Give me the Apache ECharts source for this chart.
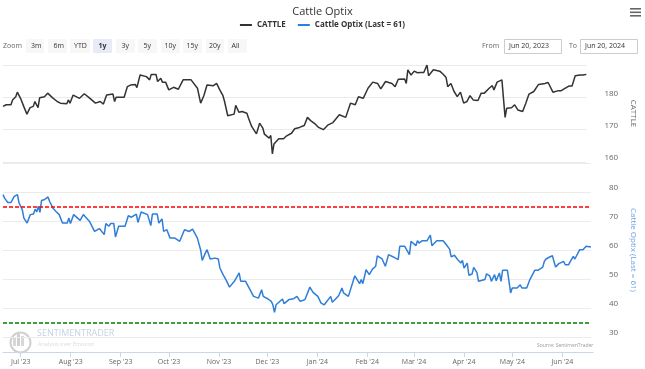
<!DOCTYPE html>
<html>
<head>
<meta charset="utf-8">
<script src="https://cdn.jsdelivr.net/npm/echarts@6/dist/echarts.min.js"></script>
<style>
html,body{margin:0;padding:0;background:#fff;}
#chart{width:645px;height:369px;}
</style>
</head>
<body>
<div id="chart"></div>
<script>
// ---------------- DATA ----------------
var titleText = 'Cattle Optix';
var cattleName = 'CATTLE';
var optixName = 'Cattle Optix (Last = 61)';
var rangeStart = '2023-06-20';
var rangeEnd = '2024-06-20';

var cattleDates = ['2023-06-20','2023-06-22','2023-06-25','2023-06-26','2023-06-28','2023-06-29','2023-07-01','2023-07-03','2023-07-05','2023-07-07',
'2023-07-09','2023-07-10','2023-07-12','2023-07-13','2023-07-16','2023-07-18','2023-07-21','2023-07-24','2023-07-26','2023-07-30',
'2023-07-31','2023-08-01','2023-08-03','2023-08-07','2023-08-10','2023-08-13','2023-08-17','2023-08-20','2023-08-22','2023-08-24',
'2023-08-28','2023-08-29','2023-08-30','2023-09-04','2023-09-06','2023-09-08','2023-09-11','2023-09-12','2023-09-14','2023-09-18',
'2023-09-20','2023-09-21','2023-09-24','2023-09-25','2023-09-27','2023-09-28','2023-09-30','2023-10-02','2023-10-05','2023-10-08',
'2023-10-11','2023-10-16','2023-10-17','2023-10-20','2023-10-22','2023-10-24','2023-10-26','2023-10-30','2023-11-01','2023-11-03',
'2023-11-05','2023-11-06','2023-11-08','2023-11-09','2023-11-12','2023-11-13','2023-11-15','2023-11-17','2023-11-20','2023-11-21',
'2023-11-23','2023-11-26','2023-11-28','2023-11-30','2023-12-01','2023-12-04','2023-12-05','2023-12-06','2023-12-07','2023-12-10',
'2023-12-13','2023-12-15','2023-12-18','2023-12-20','2023-12-23','2023-12-26','2023-12-28','2023-12-30','2024-01-02','2024-01-04',
'2024-01-07','2024-01-10','2024-01-13','2024-01-17','2024-01-18','2024-01-21','2024-01-24','2024-01-27','2024-01-29','2024-02-01',
'2024-02-04','2024-02-07','2024-02-10','2024-02-12','2024-02-15','2024-02-19','2024-02-21','2024-02-23','2024-02-27','2024-02-28',
'2024-02-29','2024-03-02','2024-03-04','2024-03-06','2024-03-08','2024-03-10','2024-03-12','2024-03-13','2024-03-16','2024-03-20',
'2024-03-22','2024-03-24','2024-03-25','2024-03-27','2024-03-29','2024-03-31','2024-04-02','2024-04-04','2024-04-06','2024-04-08',
'2024-04-10','2024-04-11','2024-04-13','2024-04-15','2024-04-17','2024-04-20','2024-04-22','2024-04-23','2024-04-25','2024-04-28',
'2024-04-29','2024-04-30','2024-05-01','2024-05-04','2024-05-06','2024-05-08','2024-05-11','2024-05-13','2024-05-15','2024-05-18',
'2024-05-21','2024-05-25','2024-05-27','2024-05-30','2024-06-02','2024-06-04','2024-06-06','2024-06-09','2024-06-11','2024-06-13',
'2024-06-16','2024-06-18','2024-06-20'];
var cattleValues = [177.2,177.7,177.7,179.2,180.2,181.6,179.7,177.2,174.8,176.8,
177.2,178.7,176.8,179.9,180.2,181.3,179.9,178.7,178.2,178.0,
179.2,178.2,180.7,179.7,181.1,179.9,178.2,178.7,177.9,180.7,
181.0,178.7,180.0,180.0,183.3,183.8,184.0,183.0,186.9,186.4,
185.4,187.1,187.1,184.9,185.9,184.7,184.7,182.3,183.1,182.5,
185.4,185.4,185.7,182.8,178.2,180.5,183.8,183.6,184.3,182.3,
180.5,178.7,174.3,174.3,174.8,177.5,175.4,175.6,175.1,173.6,
171.0,168.7,172.0,170.5,168.6,167.4,168.2,162.5,165.6,167.2,
167.2,168.1,168.9,170.3,170.7,171.3,173.8,172.8,171.7,170.7,
170.0,171.5,172.2,174.6,174.6,173.8,178.2,177.7,180.2,179.7,
182.8,184.7,184.3,182.6,184.9,184.3,183.3,185.6,185.7,184.3,
188.5,186.9,188.1,187.6,187.7,187.7,190.0,186.7,188.5,188.1,
187.2,186.1,183.3,184.3,181.8,180.2,181.6,178.2,178.7,180.5,
179.2,179.7,179.0,181.3,181.3,182.8,183.6,182.3,184.7,185.4,
184.9,173.8,176.6,176.8,177.7,176.1,175.6,178.2,181.0,181.8,
184.0,184.3,184.6,181.6,182.0,182.0,182.6,183.5,183.5,186.7,
186.9,186.9,187.1];

var optixDates = ['2023-06-20','2023-06-21','2023-06-22','2023-06-23','2023-06-25','2023-06-27','2023-06-28','2023-06-29','2023-06-30','2023-07-02',
'2023-07-03','2023-07-05','2023-07-06','2023-07-07','2023-07-09','2023-07-10','2023-07-11','2023-07-12','2023-07-13','2023-07-14',
'2023-07-16','2023-07-17','2023-07-18','2023-07-19','2023-07-21','2023-07-23','2023-07-25','2023-07-27','2023-07-30','2023-07-31',
'2023-08-01','2023-08-03','2023-08-07','2023-08-09','2023-08-13','2023-08-16','2023-08-19','2023-08-22','2023-08-23','2023-08-25',
'2023-08-26','2023-08-28','2023-08-29','2023-08-31','2023-09-04','2023-09-06','2023-09-08','2023-09-11','2023-09-12','2023-09-14',
'2023-09-18','2023-09-20','2023-09-21','2023-09-24','2023-09-25','2023-09-27','2023-09-28','2023-09-30','2023-10-02','2023-10-05',
'2023-10-08','2023-10-11','2023-10-14','2023-10-16','2023-10-19','2023-10-21','2023-10-22','2023-10-24','2023-10-25','2023-10-27',
'2023-10-30','2023-11-01','2023-11-02','2023-11-04','2023-11-06','2023-11-07','2023-11-08','2023-11-11','2023-11-14','2023-11-15',
'2023-11-18','2023-11-23','2023-11-26','2023-11-28','2023-11-29','2023-12-02','2023-12-04','2023-12-05','2023-12-06','2023-12-07',
'2023-12-11','2023-12-12','2023-12-15','2023-12-18','2023-12-19','2023-12-20','2023-12-22','2023-12-25','2023-12-28','2023-12-30',
'2024-01-02','2024-01-04','2024-01-06','2024-01-07','2024-01-10','2024-01-11','2024-01-13','2024-01-15','2024-01-17','2024-01-18',
'2024-01-21','2024-01-25','2024-01-28','2024-01-29','2024-01-30','2024-02-01','2024-02-03','2024-02-05','2024-02-07','2024-02-08',
'2024-02-11','2024-02-13','2024-02-15','2024-02-18','2024-02-21','2024-02-22','2024-02-25','2024-02-26','2024-02-28','2024-02-29',
'2024-03-03','2024-03-04','2024-03-05','2024-03-07','2024-03-10','2024-03-12','2024-03-13','2024-03-16','2024-03-20','2024-03-22',
'2024-03-24','2024-03-25','2024-03-27','2024-03-29','2024-03-31','2024-04-01','2024-04-02','2024-04-04','2024-04-05','2024-04-07',
'2024-04-08','2024-04-10','2024-04-11','2024-04-15','2024-04-16','2024-04-18','2024-04-19','2024-04-21','2024-04-22','2024-04-24',
'2024-04-25','2024-04-26','2024-04-29','2024-04-30','2024-05-01','2024-05-02','2024-05-05','2024-05-07','2024-05-08','2024-05-11',
'2024-05-13','2024-05-14','2024-05-16','2024-05-18','2024-05-21','2024-05-22','2024-05-23','2024-05-25','2024-05-27','2024-05-29',
'2024-05-31','2024-06-03','2024-06-04','2024-06-06','2024-06-09','2024-06-10','2024-06-13','2024-06-15','2024-06-17','2024-06-20'];
var optixValues = [79.1,77.9,78.5,76.4,76.4,78.5,78.5,79.1,76.2,73.9,
71.0,69.3,69.3,72.2,72.4,74.1,73.1,75.1,73.0,77.1,
77.4,77.6,78.3,76.8,74.5,73.3,72.2,69.3,69.3,71.0,
69.1,72.2,70.2,72.2,69.7,66.4,67.4,65.3,69.1,68.2,
69.1,69.1,64.5,68.2,68.2,71.8,71.3,72.4,69.5,73.1,
72.2,68.4,72.4,72.4,69.3,70.7,66.4,67.0,64.1,64.1,
63.0,67.0,66.4,67.2,64.1,60.1,56.4,59.0,60.1,56.9,
57.2,56.9,53.8,51.5,49.5,50.0,47.2,49.2,52.1,49.2,
49.2,44.0,43.4,46.3,44.0,43.1,42.3,41.1,38.5,41.1,
43.1,41.5,42.9,43.2,42.6,44.0,42.3,42.9,47.2,45.4,
44.0,41.7,41.1,41.7,44.0,42.0,43.1,44.3,46.9,45.2,
44.0,51.1,48.4,49.8,48.4,53.2,51.5,53.4,54.4,58.0,
56.9,54.4,58.4,57.6,56.7,61.3,61.3,61.3,58.4,63.0,
61.5,63.2,62.4,63.2,63.2,65.1,61.5,63.2,63.2,61.8,
60.3,57.6,58.2,56.7,55.5,56.4,53.8,55.5,51.3,51.7,
54.0,52.3,49.2,49.8,51.8,51.1,49.2,51.5,49.4,52.1,
49.2,53.0,53.0,52.6,45.2,46.9,46.9,48.0,46.9,46.9,
49.8,50.3,53.0,53.0,54.1,56.1,56.9,57.5,58.0,54.1,
55.3,56.1,54.9,54.9,57.8,56.9,60.1,60.1,61.3,61.0];

var upperBand = 75;
var lowerBand = 35;

var monthTicks = ['2023-07-01','2023-08-01','2023-09-01','2023-10-01','2023-11-01','2023-12-01',
                  '2024-01-01','2024-02-01','2024-03-01','2024-04-01','2024-05-01','2024-06-01'];
var monthLabels = ["Jul '23","Aug '23","Sep '23","Oct '23","Nov '23","Dec '23",
                   "Jan '24","Feb '24","Mar '24","Apr '24","May '24","Jun '24"];

var zoomButtons = ['3m','6m','YTD','1y','3y','5y','10y','15y','20y','All'];
var selectedZoom = '1y';
var fromDateText = 'Jun 20, 2023';
var toDateText = 'Jun 20, 2024';
var sourceText = 'Source: SentimenTrader';

// ---------------- CHART ----------------
function ts(s){ return new Date(s + 'T00:00:00').getTime(); }
var tickTs = monthTicks.map(ts);
var FONT = '"Open Sans", "Noto Sans", sans-serif';

var cattleData = cattleDates.map(function(d,i){ return [ts(d), cattleValues[i]]; });
var optixData = optixDates.map(function(d,i){ return [ts(d), optixValues[i]]; });

var chart = echarts.init(document.getElementById('chart'), null, {renderer:'canvas'});

var btnX = [26,48,70,93,116,138,161,183,206,228];
var btnW = [18,19,20,19,19,19,19,19,18,19];
var graphics = [];
graphics.push({type:'text', left:3, top:42, style:{text:'Zoom', fill:'#666', font:'7px ' + FONT}});
zoomButtons.forEach(function(b,i){
  var sel = b === selectedZoom;
  graphics.push({type:'rect', left:btnX[i], top:39, shape:{width:btnW[i], height:14, r:1},
    style:{fill: sel ? '#e6ebf5' : '#f7f7f7'}});
  graphics.push({type:'text', left:btnX[i] + btnW[i]/2 - (b.length*2), top:42,
    style:{text:b, fill:'#333', font:(sel?'bold ':'') + '7px ' + FONT}});
});
graphics.push({type:'text', left:482, top:42, style:{text:'From', fill:'#666', font:'7px ' + FONT}});
graphics.push({type:'rect', left:504, top:39, shape:{width:57, height:14}, style:{fill:'#fff', stroke:'#ccc', lineWidth:1}});
graphics.push({type:'text', left:509, top:42, style:{text:fromDateText, fill:'#333', font:'7px ' + FONT}});
graphics.push({type:'text', left:569, top:42, style:{text:'To', fill:'#666', font:'7px ' + FONT}});
graphics.push({type:'rect', left:580, top:39, shape:{width:57, height:14}, style:{fill:'#fff', stroke:'#ccc', lineWidth:1}});
graphics.push({type:'text', left:585, top:42, style:{text:toDateText, fill:'#333', font:'7px ' + FONT}});
[8,11.5,15].forEach(function(y){
  graphics.push({type:'rect', left:630, top:y, shape:{width:11, height:1.6}, style:{fill:'#666'}});
});
graphics.push({type:'circle', left:8, top:330, shape:{r:10}, style:{fill:'none', stroke:'#d0d0d0', lineWidth:2}});
graphics.push({type:'rect', left:13, top:337, shape:{width:3, height:9}, style:{fill:'#d8d8d8'}});
graphics.push({type:'rect', left:17, top:334, shape:{width:3, height:12}, style:{fill:'#d0d0d0'}});
graphics.push({type:'rect', left:21, top:336, shape:{width:3, height:10}, style:{fill:'#d8d8d8'}});
graphics.push({type:'text', left:37, top:329, style:{text:'SENTIMENTRADER', fill:'#c5d3e3', font:'9px ' + FONT}});
graphics.push({type:'text', left:38, top:341, style:{text:'Analysis over Emotion', fill:'#d5dde6', font:'5.5px ' + FONT}});
graphics.push({type:'text', left:537, top:343, style:{text:sourceText, fill:'#999', font:'5px ' + FONT}});

var option = {
  animation:false,
  backgroundColor:'#fff',
  textStyle:{fontFamily:FONT},
  title:{text:titleText, left:'center', top:1,
    textStyle:{fontSize:11, fontWeight:'normal', color:'#333', fontFamily:FONT}},
  legend:{top:16, left:'center', itemGap:12, itemWidth:12, itemHeight:2,
    textStyle:{fontSize:8, fontWeight:'bold', color:'#333', fontFamily:FONT},
    data:[{name:cattleName, icon:'rect'}, {name:optixName, icon:'rect'}]},
  graphic: graphics,
  grid:[
    {left:3, right:52, top:65, height:97},
    {left:3, right:52, top:163, height:174},
    {left:3, right:52, top:337, height:15}
  ],
  xAxis:[
    {type:'time', gridIndex:0, min:ts(rangeStart), max:ts(rangeEnd), show:false},
    {type:'time', gridIndex:1, min:ts(rangeStart), max:ts(rangeEnd), show:false},
    {type:'value', gridIndex:2, min:ts(rangeStart), max:ts(rangeEnd),
      axisLine:{show:true, lineStyle:{color:'#ccd6eb', width:1}},
      axisTick:{show:true, length:5, lineStyle:{color:'#ccd6eb'}, customValues:tickTs},
      axisLabel:{show:true, fontSize:7, color:'#666', margin:6, customValues:tickTs,
        formatter:function(v){ var i = tickTs.indexOf(v); return i >= 0 ? monthLabels[i] : ''; }},
      splitLine:{show:false}}
  ],
  yAxis:[
    {type:'value', gridIndex:0, position:'right', min:160, max:190, interval:10,
      name:cattleName, nameLocation:'middle', nameRotate:-90, nameGap:30,
      nameTextStyle:{color:'#666', fontSize:8},
      axisLine:{show:false}, axisTick:{show:false},
      axisLabel:{color:'#666', fontSize:8, margin:18, verticalAlign:'bottom', showMaxLabel:false},
      splitLine:{lineStyle:{color:'#ebebeb', width:1}}},
    {type:'value', gridIndex:1, position:'right', min:30, max:90, interval:10,
      name:optixName, nameLocation:'middle', nameRotate:-90, nameGap:30,
      nameTextStyle:{color:'#6b9ee8', fontSize:8},
      axisLine:{show:false}, axisTick:{show:false},
      axisLabel:{color:'#666', fontSize:8, margin:18, verticalAlign:'bottom', showMaxLabel:false},
      splitLine:{lineStyle:{color:'#ebebeb', width:1}}},
    {type:'value', gridIndex:2, show:false, min:0, max:1}
  ],
  series:[
    {name:cattleName, type:'line', xAxisIndex:0, yAxisIndex:0, data:cattleData,
      showSymbol:false, color:'#333333', lineStyle:{width:1.5, color:'#333333'}},
    {name:optixName, type:'line', xAxisIndex:1, yAxisIndex:1, data:optixData,
      showSymbol:false, color:'#2f7ed8', lineStyle:{width:1.5, color:'#2f7ed8'},
      markLine:{silent:true, symbol:['none','none'], label:{show:false},
        data:[
          {yAxis:upperBand, lineStyle:{color:'#ff0000', type:[4,2], width:1.5}},
          {yAxis:lowerBand, lineStyle:{color:'#008000', type:[4,2], width:1.5}}
        ]}}
  ]
};
chart.setOption(option);
</script>
</body>
</html>
